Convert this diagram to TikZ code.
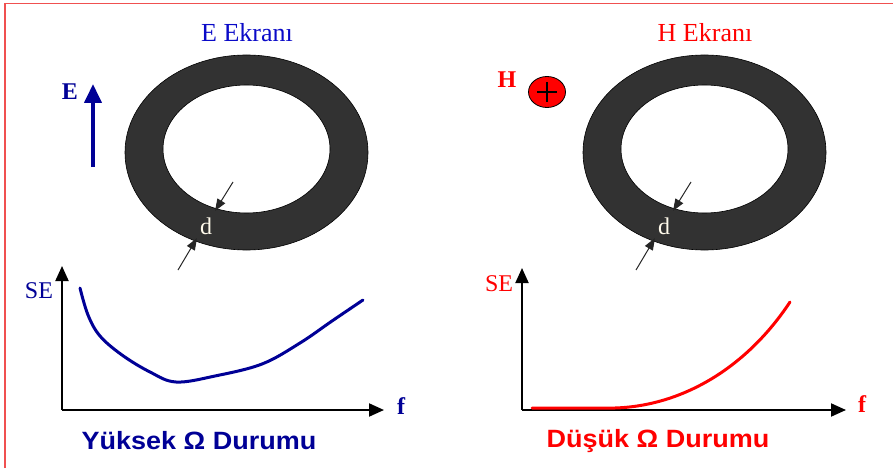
\documentclass[tikz,border=0pt]{standalone}
\usepackage{fontspec}
\setmainfont{Liberation Serif}
\newfontfamily\arialfont{Liberation Sans}
\usetikzlibrary{arrows.meta,shapes.geometric}
\definecolor{eblue}{RGB}{10, 10, 200}
\definecolor{navy}{RGB}{0, 0, 150}
\definecolor{hred}{RGB}{255, 0, 0}
\definecolor{ringgray}{RGB}{50, 50, 50}
\definecolor{framered}{RGB}{240, 80, 80}
\definecolor{dwhite}{RGB}{255, 250, 235}

\begin{document}
\begin{tikzpicture}[x=1pt, y=-1pt,
    title/.style={font=\fontsize{26}{30}\selectfont},
    bigletter/.style={font=\fontsize{24}{28}\selectfont\bfseries},
    selabel/.style={font=\fontsize{24}{28}\selectfont},
    caption/.style={font=\arialfont\fontsize{25}{29}\selectfont\bfseries, xscale=1.08},
    dlabel/.style={text=dwhite, font=\fontsize{24}{28}\selectfont},
    ring/.style={fill=ringgray, draw=black, line width=0.6pt, even odd rule},
    axis/.style={line width=2pt, -{Triangle[width=13pt,length=15pt]}},
    darrow/.style={line width=1pt, draw=black!85, -{Triangle[width=9pt,length=12pt]}},
    curve/.style={line width=3pt, line cap=round}
  ]
  \useasboundingbox (0,0) rectangle (893,468);
  % frame
  \draw[framered, line width=1.5pt] (5,468) -- (5,3.5) -- (893,3.5);

  % E screen
  \node[title, text=eblue] (etitle) at (247,33) {E Ekranı};
  \fill[ring] (246.5,152.5) ellipse [x radius=121.5, y radius=97.5]
              (246.5,149) ellipse [x radius=83.5, y radius=64];
  \node[dlabel] (ed) at (206,226) {d};
  \coordinate (edin) at (233,182);
  \coordinate (edout) at (178,270);
  \draw[darrow] (edin) -- (215,211);
  \draw[darrow] (edout) -- (197,238);
  \node[bigletter, text=navy] (elabel) at (70,92) {E};
  \coordinate (etail) at (93,167);
  \coordinate (etip) at (93,84);
  \draw[navy, line width=4pt, -{Triangle[width=17pt,length=19pt]}] (etail) -- (etip);

  % E plot
  \coordinate (eorig) at (62,410);
  \coordinate (eytip) at (62,266);
  \coordinate (exend) at (384,410);
  \draw[axis] (eorig) -- (eytip);
  \draw[axis] (eorig) -- (exend);
  \node[selabel, text=navy] (ese) at (39,291) {SE};
  \node[bigletter, text=navy] (ef) at (401,406) {f};
  \draw[curve, navy] plot[smooth, tension=0.6] coordinates {(80,288) (88,315) (100,336) (122,355) (150,372) (176,382) (215,376) (262,364) (300,343) (332,321) (363,300)};
  \node[caption, text=navy] (ecap) at (199,441) {Yüksek Ω Durumu};

  % H screen
  \node[title, text=hred] (htitle) at (705,33) {H Ekranı};
  \fill[ring] (704.5,152.5) ellipse [x radius=121.5, y radius=97.5]
              (704.5,149) ellipse [x radius=83.5, y radius=64];
  \node[dlabel] (hd) at (664,226) {d};
  \coordinate (hdin) at (691,182);
  \coordinate (hdout) at (636,270);
  \draw[darrow] (hdin) -- (673,211);
  \draw[darrow] (hdout) -- (655,238);
  \node[bigletter, text=hred] (hlabel) at (507,80) {H};
  \node[ellipse, draw=black, fill=hred, line width=0.8pt, minimum width=37pt, minimum height=31pt, inner sep=0pt] (hplus) at (547,92) {};
  \draw[line width=2.6pt, black] ([xshift=-10pt]hplus.center) -- ([xshift=10pt]hplus.center);
  \draw[line width=2.6pt, black] ([yshift=-10pt]hplus.center) -- ([yshift=10pt]hplus.center);

  % H plot
  \coordinate (horig) at (522,410);
  \coordinate (hytip) at (522,268);
  \coordinate (hxend) at (846,410);
  \draw[axis] (horig) -- (hytip);
  \draw[axis] (horig) -- (hxend);
  \node[selabel, text=hred] (hse) at (499,284) {SE};
  \node[bigletter, text=hred] (hf) at (862,404) {f};
  \draw[curve, hred] (532,408) -- (615,408) .. controls (680,406) and (745,370) .. (790,302);
  \node[caption, text=hred] (hcap) at (658,441) {Düşük Ω Durumu};
\end{tikzpicture}
\end{document}
